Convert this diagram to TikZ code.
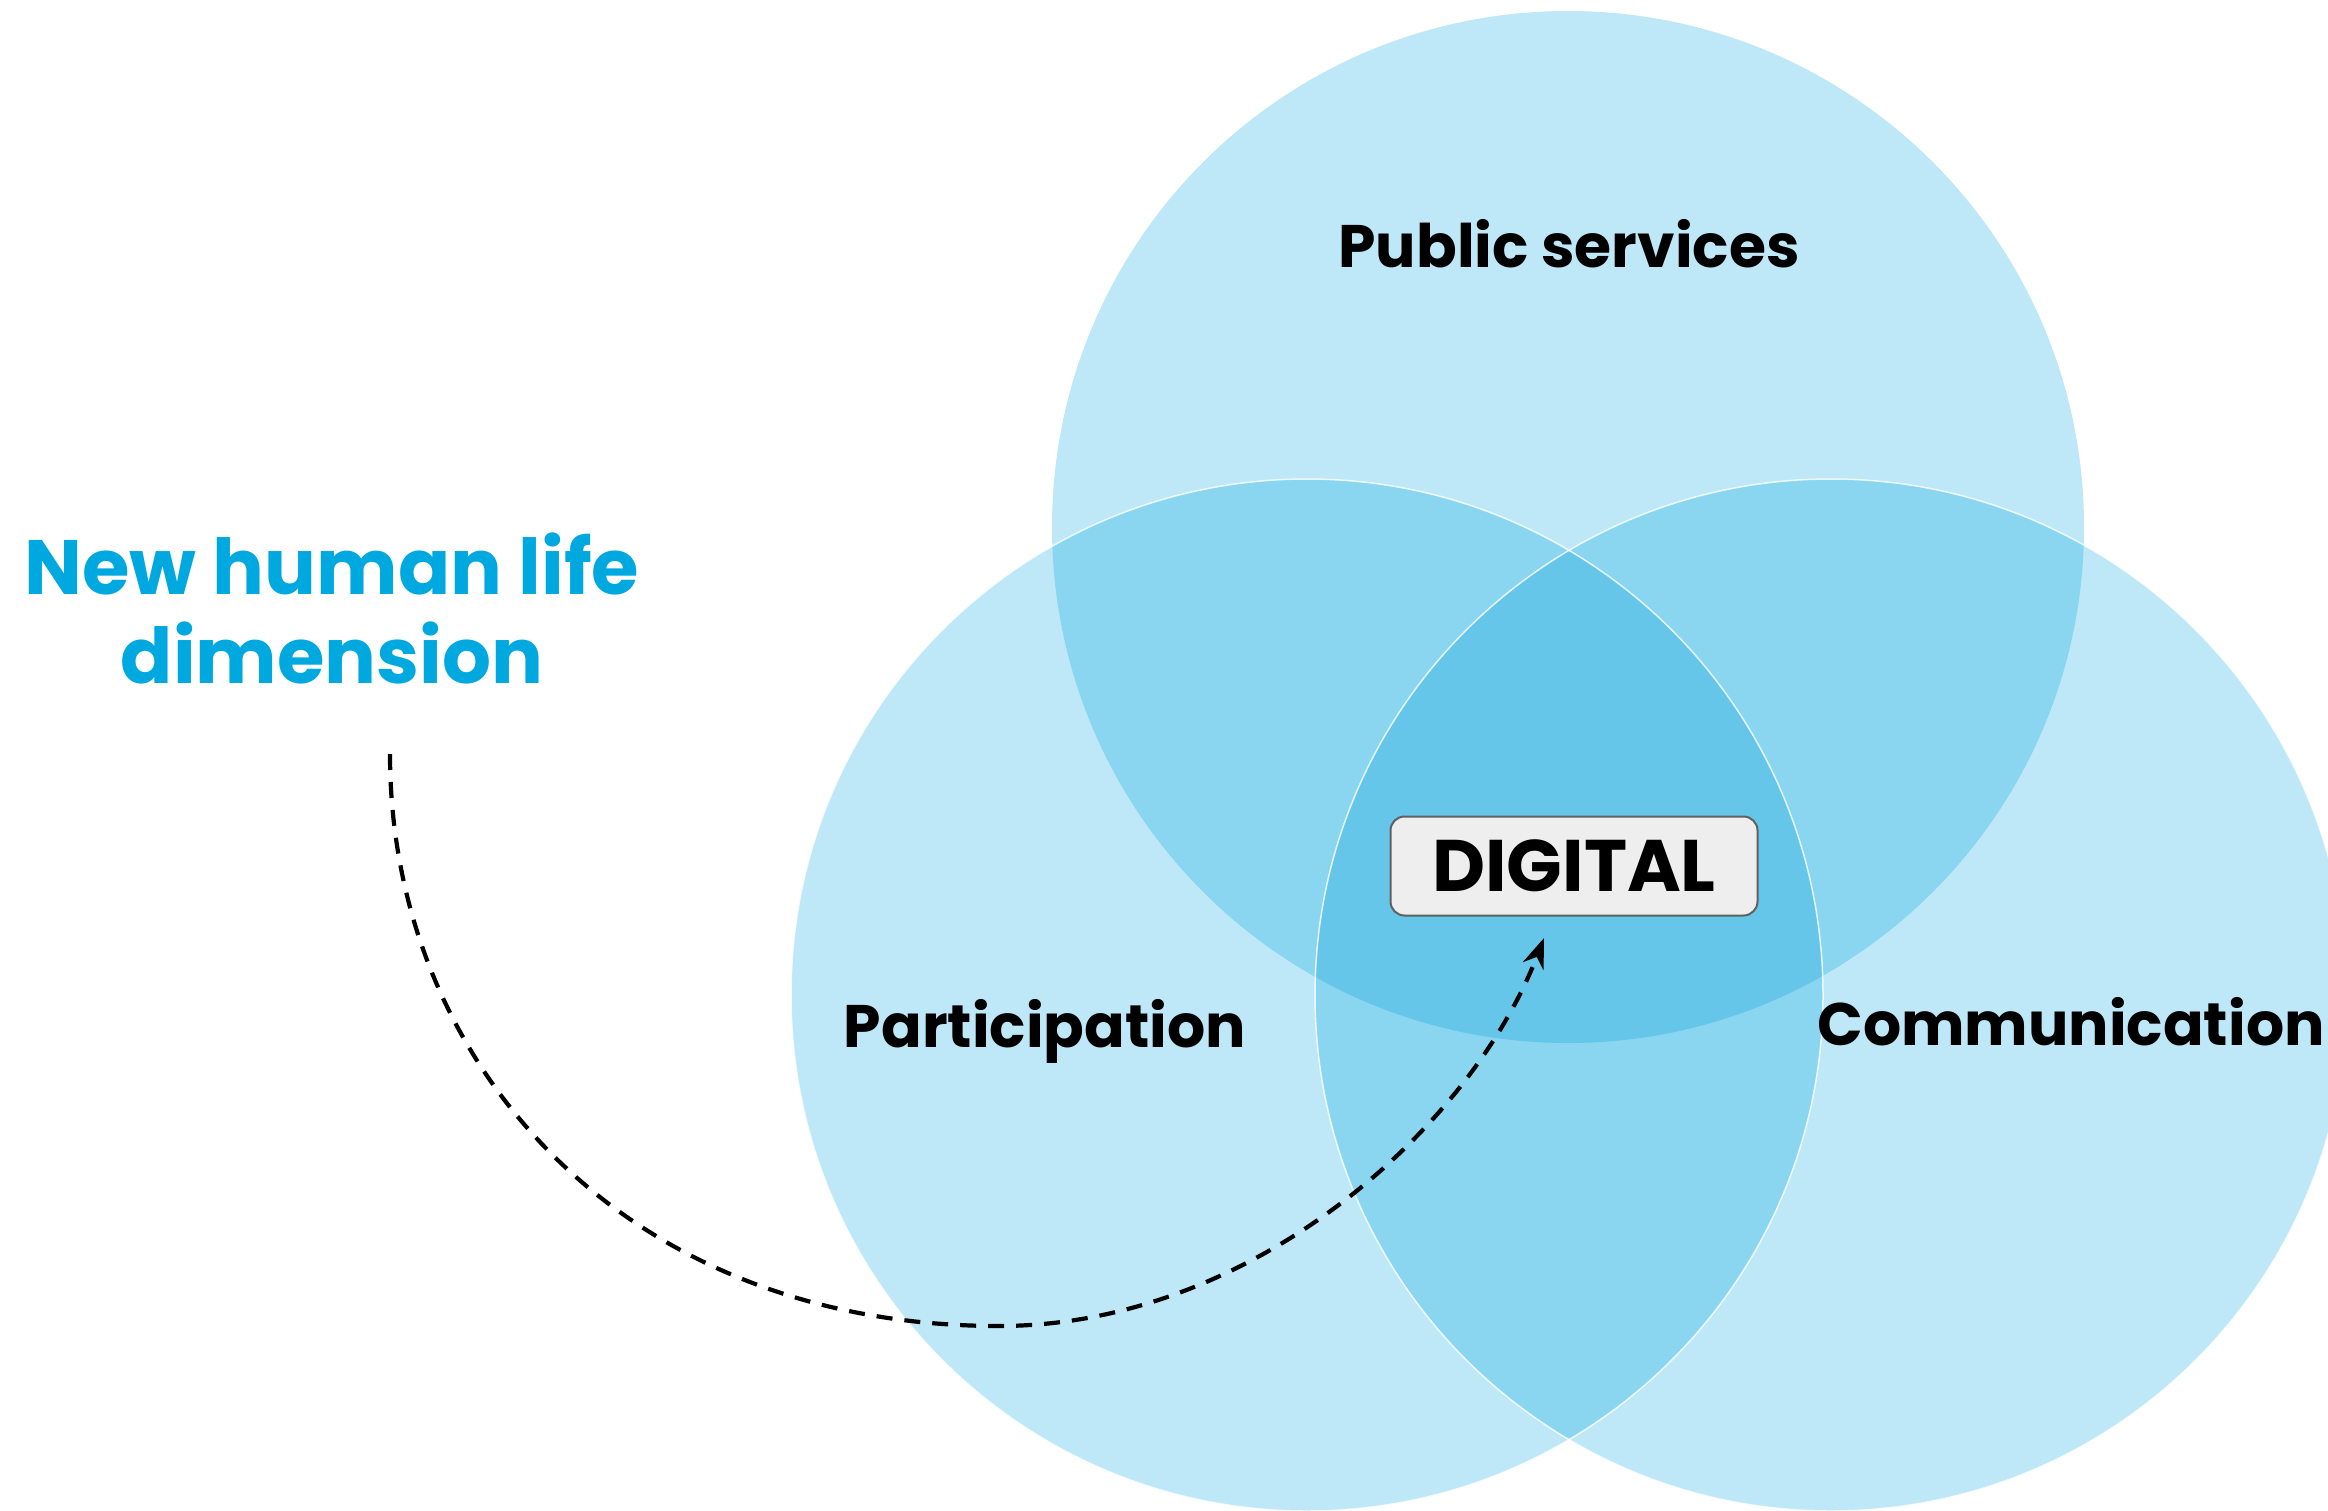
\documentclass[tikz,border=0pt]{standalone}
\usepackage{fontspec}
\setmainfont{Poppins}
\usetikzlibrary{arrows.meta}

\definecolor{vennone}{HTML}{BEE8F7}
\definecolor{venntwo}{HTML}{8AD5F0}
\definecolor{vennthree}{HTML}{66C6EA}
\definecolor{titleblue}{HTML}{00A8E0}
\definecolor{boxgray}{HTML}{EEEEEE}
\definecolor{boxline}{HTML}{606060}

\def\circT{(1568,527) circle[radius=516pt]}
\def\circL{(1307,995) circle[radius=516pt]}
\def\circR{(1831,995) circle[radius=516pt]}

\begin{document}
\begin{tikzpicture}[x=1pt,y=-1pt,>={Stealth[length=30pt,width=22pt]},
                    line join=round]
  \tikzstyle{area}=[fill=vennone]
  \tikzstyle{ring}=[draw=white,draw opacity=0.8,line width=1.5pt]
  \tikzstyle{label}=[font=\fontsize{60}{72}\selectfont\bfseries,anchor=base,inner sep=0pt]
  \tikzstyle{title}=[font=\fontsize{77}{89}\selectfont\bfseries,text=titleblue,align=center,anchor=base,inner sep=0pt]
  \tikzstyle{digital}=[font=\fontsize{73}{84}\selectfont\bfseries,fill=boxgray,draw=boxline,line width=2pt,
                       rounded corners=14pt,minimum width=367pt,minimum height=99pt,inner sep=0pt]

  \useasboundingbox (0,0) rectangle (2328,1511);

  \fill[area] \circT; \fill[area] \circL; \fill[area] \circR;
  \begin{scope}
    \clip \circT; \fill[venntwo] \circL; \fill[venntwo] \circR;
  \end{scope}
  \begin{scope}
    \clip \circL; \fill[venntwo] \circR;
  \end{scope}
  \begin{scope}
    \clip \circT; \clip \circL; \fill[vennthree] \circR;
  \end{scope}
  \draw[ring] \circL; \draw[ring] \circR;

  \node[label]   (pub)    at (1569,268)  {Public services};
  \node[label]   (part)   at (1045,1047) {Participation};
  \node[label]   (comm)   at (2071,1045) {Communication};
  \node[digital] (dig)    at (1574,866)  {DIGITAL};
  \node[title]   (newdim) at (332,683)   {New human life\\dimension};

  \coordinate (arrfrom) at (390,754);
  \coordinate (arrto)   at (1544,938);

  \draw[->,line width=4.2pt,dash pattern=on 16pt off 12pt]
        (arrfrom) .. controls (390,1060) and (620,1326) .. (999,1326)
                  .. controls (1250,1326) and (1470,1130) .. (arrto);
\end{tikzpicture}
\end{document}
